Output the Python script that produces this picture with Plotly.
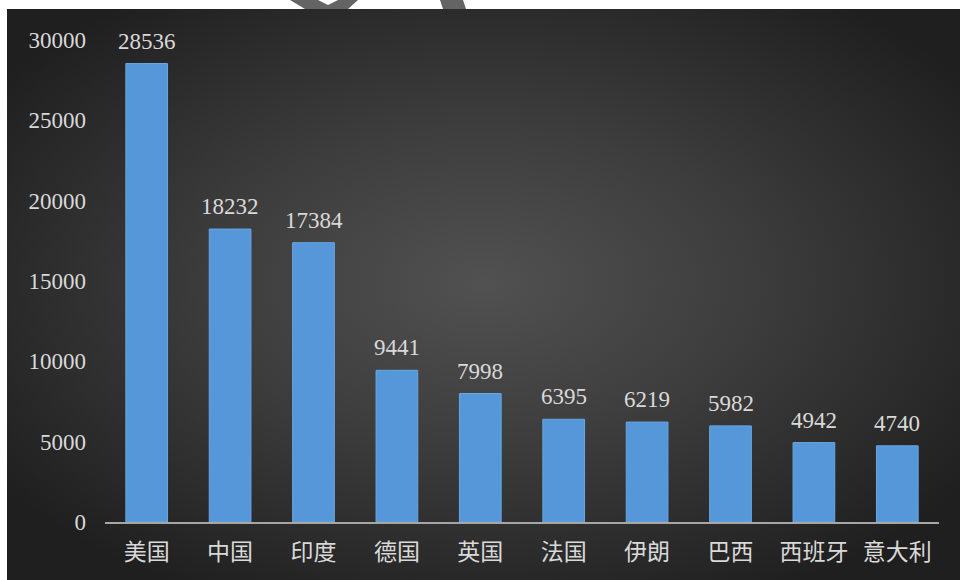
import base64
import plotly.graph_objects as go

# Data
countries = ["美国", "中国", "印度", "德国", "英国", "法国", "伊朗", "巴西", "西班牙", "意大利"]
values = [28536, 18232, 17384, 9441, 7998, 6395, 6219, 5982, 4942, 4740]
y_ticks = [0, 5000, 10000, 15000, 20000, 25000, 30000]

W, H = 960, 580
M_L, M_R, M_T, M_B = 105, 21, 40, 58
PW, PH = W - M_L - M_R, H - M_T - M_B


def px_x(x):
    return (x - M_L) / PW


def px_y(y):
    return (H - M_B - y) / PH


# Dark radial-gradient backdrop as an SVG image
svg = f"""<svg xmlns='http://www.w3.org/2000/svg' width='953' height='571' viewBox='0 0 953 571' preserveAspectRatio='none'>
<defs><radialGradient id='g' cx='0.5' cy='0.48' r='0.62' gradientUnits='objectBoundingBox'>
<stop offset='0' stop-color='#515151'/>
<stop offset='0.45' stop-color='#3d3d3d'/>
<stop offset='1' stop-color='#1f1f1f'/>
</radialGradient></defs>
<rect width='953' height='571' fill='url(#g)'/>
</svg>"""
bg_src = "data:image/svg+xml;base64," + base64.b64encode(svg.encode()).decode()

text_color = "#d9d9d9"
serif = "Liberation Serif, 'Times New Roman', 'Noto Sans CJK SC', serif"

fig = go.Figure()
fig.add_trace(go.Bar(
    x=countries,
    y=values,
    width=0.5,
    marker=dict(color="#5597d9", line=dict(color="#6aa7e2", width=1)),
    hoverinfo="x+y",
))

# Value labels above each bar
for c, v in zip(countries, values):
    fig.add_annotation(
        x=c, y=v, text=str(v), showarrow=False,
        yanchor="bottom", yshift=8,
        font=dict(family=serif, size=23, color=text_color),
    )

# Watermark fragments in the white strip along the top edge
def path_from(points):
    return "M " + " L ".join(f"{px_x(x):.5f},{px_y(y):.5f}" for x, y in points) + " Z"

fig.add_shape(type="path", xref="paper", yref="paper",
              path=path_from([(290, 0), (318, 0), (328, 5), (338, 0), (358, 0), (348, 9), (305, 9)]),
              fillcolor="#646464", line=dict(width=0), layer="above")
fig.add_shape(type="path", xref="paper", yref="paper",
              path=path_from([(440, 0), (463, 0), (466, 9), (443, 9)]),
              fillcolor="#646464", line=dict(width=0), layer="above")

fig.update_layout(
    width=W, height=H,
    margin=dict(l=M_L, r=M_R, t=M_T, b=M_B),
    paper_bgcolor="white",
    plot_bgcolor="rgba(0,0,0,0)",
    showlegend=False,
    bargap=0.5,
    images=[dict(
        source=bg_src, xref="paper", yref="paper",
        x=px_x(7), y=px_y(9),
        sizex=px_x(W) - px_x(7), sizey=px_y(9) - px_y(H),
        xanchor="left", yanchor="top", sizing="stretch", layer="below",
    )],
    xaxis=dict(
        showgrid=False, zeroline=False,
        showline=True, linecolor="#a6a6a6", linewidth=2,
        ticks="", ticklabelstandoff=8,
        tickfont=dict(family="'Noto Sans CJK SC', sans-serif", size=23, color=text_color),
        range=[-0.5, len(countries) - 0.5],
    ),
    yaxis=dict(
        range=[0, 30000], tickvals=y_ticks,
        ticktext=[str(t) for t in y_ticks],
        showgrid=False, zeroline=False, showline=False,
        ticks="", ticklabelstandoff=18,
        tickfont=dict(family=serif, size=23, color=text_color),
    ),
)

fig.write_html("out.html")
